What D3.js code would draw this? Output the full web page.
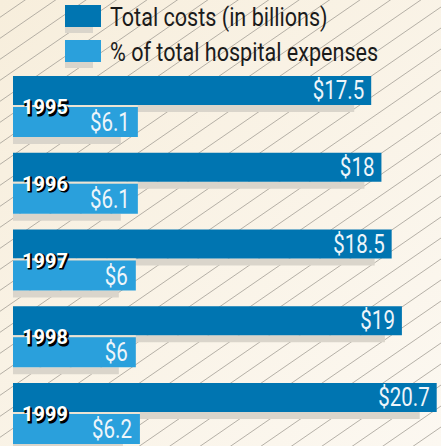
<!DOCTYPE html>
<html>
<head>
<meta charset="utf-8">
<script src="https://cdn.jsdelivr.net/npm/d3@7"></script>
<style>
  html, body { margin: 0; padding: 0; background: #f9f2e5; }
  svg { display: block; }
</style>
</head>
<body>
<svg id="chart" width="441" height="446"></svg>
<script>
// ---- data ----
const years = ["1995", "1996", "1997", "1998", "1999"];
const totalCosts = [17.5, 18, 18.5, 19, 20.7];
const pctExpenses = [6.1, 6.1, 6, 6, 6.2];
const seriesNames = ["Total costs (in billions)", "% of total hospital expenses"];
const seriesColors = ["#0075b1", "#2aa0dc"];

// ---- layout ----
const W = 441, H = 446;
const svg = d3.select("#chart");
const FONT = "Roboto, 'Liberation Sans', Arial, sans-serif";
const SQUEEZE = 0.82;
const shadowColor = "#dad5cb";

// background gradient
const defs = svg.append("defs");
const grad = defs.append("linearGradient").attr("id", "bg")
  .attr("x1", "0").attr("y1", "0").attr("x2", "1").attr("y2", "1");
grad.append("stop").attr("offset", "0%").attr("stop-color", "#f7eedc");
grad.append("stop").attr("offset", "100%").attr("stop-color", "#fcf8f1");
svg.append("rect").attr("width", W).attr("height", H).attr("fill", "url(#bg)");

// diagonal hatching
const slope = 0.69, spacing = 21, phase = 17.3;
const cs = d3.range(phase - spacing, H + slope * W + spacing, spacing);
svg.append("g").selectAll("line").data(cs).join("line")
  .attr("x1", 0).attr("y1", d => d)
  .attr("x2", W).attr("y2", d => d - slope * W)
  .attr("stroke", "#a39e95").attr("stroke-width", 0.8);

// scales
const x = d3.scaleLinear().domain([0, 20.7]).range([13, 436.7]);
const y = d3.scaleBand().domain(years).range([76, 76 + 5 * 76.75]).paddingInner(0);

const darkH = 29, lightTop = 31, lightH = 30, shH = 7, shCut = 17;

const rows = years.map((yr, i) => ({ year: yr, cost: totalCosts[i], pct: pctExpenses[i] }));
const g = svg.append("g");
const row = g.selectAll("g.row").data(rows).join("g").attr("class", "row")
  .attr("transform", d => `translate(0,${y(d.year)})`);

// shadows
row.append("rect").attr("x", x(0)).attr("y", darkH)
  .attr("width", d => x(d.cost) - x(0) - shCut).attr("height", shH).attr("fill", shadowColor);
row.append("rect").attr("x", x(0)).attr("y", lightTop + lightH)
  .attr("width", d => x(d.pct) - x(0) - shCut).attr("height", shH).attr("fill", shadowColor);

// bars
row.append("rect").attr("x", x(0)).attr("y", 0)
  .attr("width", d => x(d.cost) - x(0)).attr("height", darkH).attr("fill", seriesColors[0]);
row.append("rect").attr("x", x(0)).attr("y", darkH)
  .attr("width", d => x(d.pct) - x(0)).attr("height", lightTop - darkH).attr("fill", "#ece4d4");
row.append("rect").attr("x", x(0)).attr("y", lightTop)
  .attr("width", d => x(d.pct) - x(0)).attr("height", lightH).attr("fill", seriesColors[1]);

// value labels
row.append("text")
  .attr("transform", d => `translate(${x(d.cost) - 7},${darkH - 6}) scale(${SQUEEZE},1)`)
  .attr("text-anchor", "end").attr("font-family", FONT).attr("font-size", 25)
  .attr("fill", "#eef5fa").text(d => "$" + d.cost);
row.append("text")
  .attr("transform", d => `translate(${x(d.pct) - 8},${lightTop + lightH - 6}) scale(${SQUEEZE},1)`)
  .attr("text-anchor", "end").attr("font-family", FONT).attr("font-size", 25)
  .attr("fill", "#eef5fa").text(d => "$" + d.pct);

// year labels with shadow
row.append("text").attr("x", 23.5).attr("y", 39.5)
  .attr("font-family", FONT).attr("font-weight", "bold").attr("font-size", 20)
  .attr("fill", "#000").attr("stroke", "#000").attr("stroke-width", 1.2)
  .text(d => d.year);
row.append("text").attr("x", 22).attr("y", 38)
  .attr("font-family", FONT).attr("font-weight", "bold").attr("font-size", 20)
  .attr("fill", "#fff").text(d => d.year);

// legend
const legend = svg.append("g");
const lg = legend.selectAll("g").data(seriesNames).join("g")
  .attr("transform", (d, i) => `translate(65,${5 + i * 35})`);
lg.append("rect").attr("x", 0).attr("y", 22).attr("width", 28).attr("height", 6).attr("fill", shadowColor);
lg.append("rect").attr("x", 0).attr("y", 0).attr("width", 36).attr("height", 22)
  .attr("fill", (d, i) => seriesColors[i]);
lg.append("text")
  .attr("transform", `translate(45,21) scale(0.83,1)`)
  .attr("font-family", FONT).attr("font-size", 26).attr("fill", "#1b1b1b")
  .text(d => d);
</script>
</body>
</html>
